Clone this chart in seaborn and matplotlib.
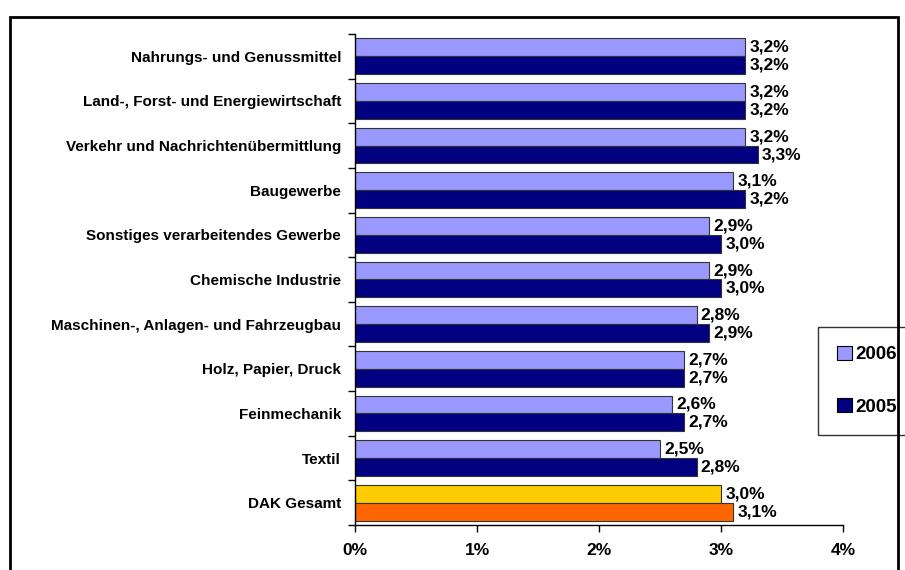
import pandas as pd
import numpy as np
import matplotlib
matplotlib.use('Agg')
import matplotlib.pyplot as plt
import seaborn as sns
from matplotlib.patches import Rectangle, Patch

branchen = ['Nahrungs- und Genussmittel',
            'Land-, Forst- und Energiewirtschaft',
            'Verkehr und Nachrichtenübermittlung',
            'Baugewerbe',
            'Sonstiges verarbeitendes Gewerbe',
            'Chemische Industrie',
            'Maschinen-, Anlagen- und Fahrzeugbau',
            'Holz, Papier, Druck',
            'Feinmechanik',
            'Textil',
            'DAK Gesamt']
werte_2006 = [3.2, 3.2, 3.2, 3.1, 2.9, 2.9, 2.8, 2.7, 2.6, 2.5, 3.0]
werte_2005 = [3.2, 3.2, 3.3, 3.2, 3.0, 3.0, 2.9, 2.7, 2.7, 2.8, 3.1]
jahre = ['2006', '2005']
xticks = [0, 1, 2, 3, 4]

df = pd.DataFrame({
    'Branche': branchen * 2,
    'Jahr': ['2006'] * len(branchen) + ['2005'] * len(branchen),
    'Wert': werte_2006 + werte_2005,
})

sns.set_style('white')
plt.rcParams['font.family'] = ['Liberation Sans', 'DejaVu Sans']
plt.rcParams['text.color'] = 'black'
plt.rcParams['xtick.color'] = 'black'
plt.rcParams['ytick.color'] = 'black'

farben = {'2006': '#9999FF', '2005': '#000080'}

fig = plt.figure(figsize=(9.05, 5.70), dpi=100)
ax = fig.add_axes([355 / 905, 1 - 525 / 570, (843 - 355) / 905, (525 - 34) / 570])

sns.barplot(data=df, x='Wert', y='Branche', hue='Jahr', hue_order=jahre,
            order=branchen, palette=farben, orient='h', width=0.8,
            saturation=1, edgecolor='#333333', linewidth=0.8, legend=False,
            ax=ax)

# DAK Gesamt in eigenen Farben
for cont, farbe in zip(ax.containers, ['#FFCC00', '#FF6600']):
    cont.patches[-1].set_facecolor(farbe)

# Werte beschriften
for cont in ax.containers:
    labels = [f'{b.get_width():.1f}%'.replace('.', ',') for b in cont.patches]
    ax.bar_label(cont, labels=labels, padding=3, fontsize=12.5,
                 fontweight='bold', color='black')

ax.set_xlim(0, 4)
ax.set_ylim(len(branchen) - 0.5, -0.5)
ax.set_xticks(xticks)
ax.set_xticklabels([f'{t}%' for t in xticks], fontsize=12.5, fontweight='bold')
ax.tick_params(axis='x', length=5, width=1, color='black', direction='out',
               bottom=True, pad=8, labelcolor='black')

ax.set_yticks(range(len(branchen)))
ax.set_yticklabels(branchen, fontsize=11, fontweight='bold')
ax.set_yticks(np.arange(-0.5, len(branchen), 1), minor=True)
ax.tick_params(axis='y', which='major', length=0, pad=10, labelcolor='black')
ax.tick_params(axis='y', which='minor', length=5, width=1, color='black',
               direction='out', left=True)

ax.set_xlabel('')
ax.set_ylabel('')
for s in ['top', 'right']:
    ax.spines[s].set_visible(False)
for s in ['left', 'bottom']:
    ax.spines[s].set_color('black')
    ax.spines[s].set_linewidth(1)

# Legende
handles = [Patch(facecolor=farben[j], edgecolor='black', linewidth=0.8, label=j)
           for j in jahre]
leg = fig.legend(handles=handles, loc='upper left',
                 bbox_to_anchor=(818 / 905, 1 - 327 / 570),
                 frameon=True, fancybox=False, edgecolor='black',
                 prop={'weight': 'bold', 'size': 13.5},
                 handlelength=0.8, handleheight=0.8, handletextpad=0.2,
                 labelspacing=1.85, borderpad=1.0, borderaxespad=0)
leg.get_frame().set_linewidth(1)
for t in leg.get_texts():
    t.set_color('black')

# Rahmen um das Diagramm
fig.patches.append(Rectangle((10 / 905, -0.1), 888 / 905, 1.1 - 17 / 570,
                             transform=fig.transFigure, fill=False,
                             edgecolor='black', linewidth=2, clip_on=False,
                             zorder=10))

fig.savefig('out.png', dpi=100)
